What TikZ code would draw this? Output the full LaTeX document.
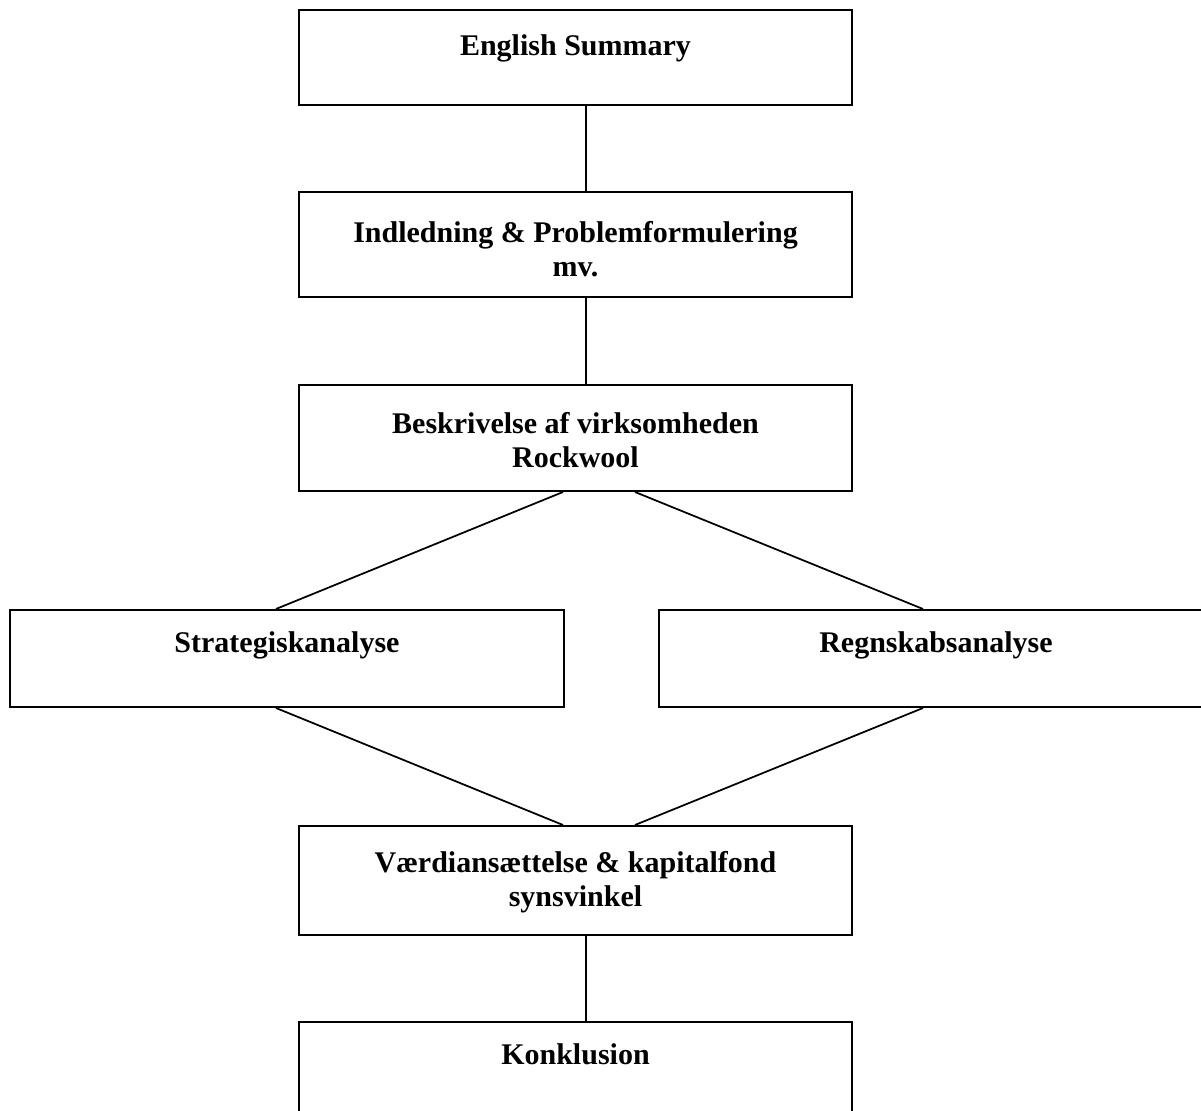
\documentclass[tikz,border=0pt]{standalone}
\usepackage{fontspec}
\setmainfont{Liberation Serif}
\usetikzlibrary{positioning,calc}

\begin{document}
\begin{tikzpicture}[x=0.4pt,y=-0.4pt,
    box/.style={draw, line width=0.8pt, minimum width=221.2pt, inner sep=0pt},
    title/.style={font=\fontsize{12}{13.6}\selectfont\bfseries, align=center, inner sep=0pt},
    link/.style={line width=0.7pt}]
    \useasboundingbox (0,0) rectangle (1201,1111);
    \clip (0,0) rectangle (1201,1111);

    % boxes
    \node[box, minimum height=38pt] (summary) at (575.5,57.5) {};
    \node[box, minimum height=42pt] (intro) at (575.5,244.5) {};
    \node[box, minimum height=42.4pt] (company) at (575.5,438) {};
    \node[box, minimum width=221.6pt, minimum height=38.8pt] (strategy) at (287,658.5) {};
    \node[box, minimum width=221.6pt, minimum height=38.8pt] (accounts) at (936,658.5) {};
    \node[box, minimum height=43.6pt] (valuation) at (575.5,880.5) {};
    \node[box, minimum height=43.2pt] (conclusion) at (575.5,1076) {};

    % titles
    \node[title, below=10pt of summary.north] {English Summary};
    \node[title, below=12pt of intro.north] {Indledning \& Problemformulering\\mv.};
    \node[title, below=11pt of company.north] {Beskrivelse af virksomheden\\Rockwool};
    \node[title, below=9pt of strategy.north] {Strategiskanalyse};
    \node[title, below=9pt of accounts.north] {Regnskabsanalyse};
    \node[title, below=10.5pt of valuation.north] {Værdiansættelse \& kapitalfond\\synsvinkel};
    \node[title, below=9pt of conclusion.north] {Konklusion};

    % connectors
    \draw[link] ([xshift=4.2pt]summary.south) -- ([xshift=4.2pt]intro.north);
    \draw[link] ([xshift=4.2pt]intro.south) -- ([xshift=4.2pt]company.north);
    \draw[link] ([xshift=-5pt]company.south) -- ([xshift=-4.4pt]strategy.north);
    \draw[link] ([xshift=23.8pt]company.south) -- ([xshift=-5.2pt]accounts.north);
    \draw[link] ([xshift=-4.4pt]strategy.south) -- ([xshift=-5pt]valuation.north);
    \draw[link] ([xshift=-5.2pt]accounts.south) -- ([xshift=23.8pt]valuation.north);
    \draw[link] ([xshift=4.2pt]valuation.south) -- ([xshift=4.2pt]conclusion.north);
\end{tikzpicture}
\end{document}
